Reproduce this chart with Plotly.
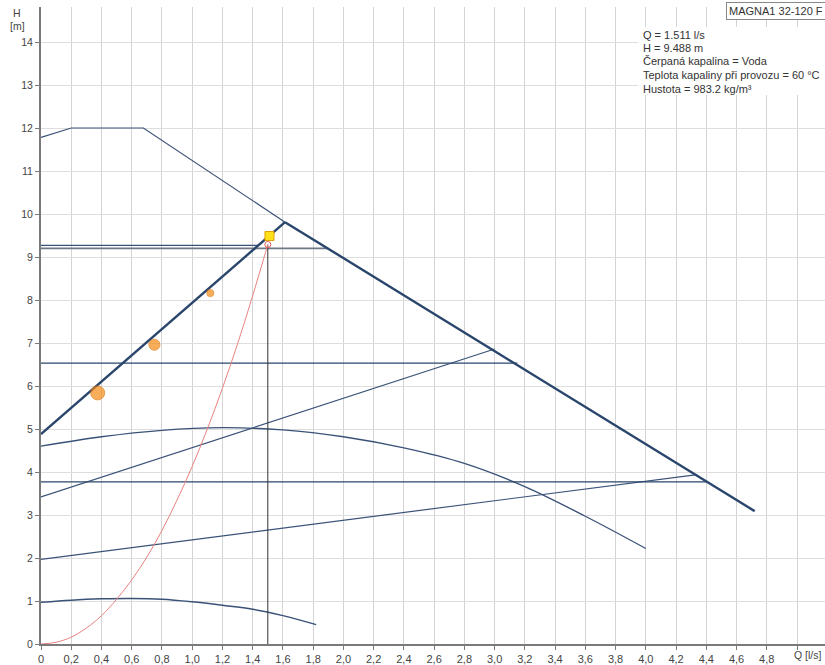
import plotly.graph_objects as go

# ---------------- data ----------------
# Max curve: thin part then thick part
max_thin_q = [0.0, 0.2, 0.677, 1.614]
max_thin_h = [11.78, 12.0, 12.0, 9.81]
max_thick_q = [1.614, 4.72]
max_thick_h = [9.81, 3.09]

# Thick proportional-pressure curve
pp_max_q = [0.0, 1.614]
pp_max_h = [4.88, 9.81]

# Thin proportional-pressure curves
pp1_q = [0.0, 3.0]
pp1_h = [3.42, 6.86]
pp2_q = [0.0, 4.34]
pp2_h = [1.97, 3.94]

# Constant-pressure curves
cp_a_q = [0.0, 1.44]
cp_a_h = [9.27, 9.27]
cp_b_q = [0.0, 1.90]
cp_b_h = [9.20, 9.20]
cp1_q = [0.0, 3.15]
cp1_h = [6.53, 6.53]
cp2_q = [0.0, 4.41]
cp2_h = [3.77, 3.77]

# Constant-curve (speed) curves
cc1_q = [0.0, 0.4, 0.8, 1.2, 1.6, 2.0, 2.4, 2.8, 3.2, 3.6, 4.0]
cc1_h = [4.60, 4.82, 4.97, 5.03, 4.98, 4.82, 4.56, 4.20, 3.66, 2.97, 2.22]
cc2_q = [0.0, 0.2, 0.4, 0.6, 0.8, 1.0, 1.2, 1.4, 1.6, 1.82]
cc2_h = [0.97, 1.02, 1.05, 1.06, 1.04, 0.98, 0.90, 0.81, 0.66, 0.45]

# System curve (red)
sys_q = [0.0, 0.1, 0.2, 0.3, 0.4, 0.5, 0.6, 0.7, 0.8, 0.9, 1.0, 1.1, 1.2, 1.3, 1.4, 1.5]
sys_h = [0.0, 0.04, 0.16, 0.37, 0.66, 1.04, 1.49, 2.02, 2.64, 3.35, 4.13, 5.0, 5.95, 6.98, 8.1, 9.29]

# Duty point
duty_q = 1.511
duty_h = 9.488
sys_pt_q = 1.5
sys_pt_h = 9.29

# Orange points
pts_q = [0.375, 0.75, 1.12]
pts_h = [5.84, 6.96, 8.16]
pts_size = [14, 11, 7]

# Ticks
x_tickvals = [round(0.2 * i, 1) for i in range(26)]
x_ticktext = ["0"] + [f"{v:.1f}".replace(".", ",") for v in x_tickvals[1:25]] + [""]
y_tickvals = list(range(0, 15))

info_lines = [
    "Q = 1.511 l/s",
    "H = 9.488 m",
    "Čerpaná kapalina = Voda",
    "Teplota kapaliny při provozu = 60 °C",
    "Hustota = 983.2 kg/m³",
]
title_box = "MAGNA1 32-120 F"

# ---------------- figure ----------------
NAVY = "#2a466c"
THIN = "#3a5278"
GREY = "#6f7684"

fig = go.Figure()

def line(q, h, color, width, shape="linear"):
    fig.add_trace(go.Scatter(x=q, y=h, mode="lines",
                             line=dict(color=color, width=width, shape=shape,
                                       smoothing=1.0 if shape == "spline" else None),
                             hoverinfo="skip", showlegend=False))

line(cc1_q, cc1_h, THIN, 1.3, "spline")
line(cc2_q, cc2_h, THIN, 1.5, "spline")
line(pp1_q, pp1_h, THIN, 1.2)
line(pp2_q, pp2_h, THIN, 1.2)
line(cp1_q, cp1_h, NAVY, 1.2)
line(cp2_q, cp2_h, NAVY, 1.2)
line(cp_a_q, cp_a_h, THIN, 1.2)
line(cp_b_q, cp_b_h, GREY, 1.6)
line(max_thin_q, max_thin_h, THIN, 1.2)
line(max_thick_q, max_thick_h, NAVY, 2.4)
line(pp_max_q, pp_max_h, NAVY, 2.4)

# vertical duty line
line([sys_pt_q, sys_pt_q], [0, sys_pt_h], "#333333", 1)

# system curve
line(sys_q, sys_h, "#e8837f", 1, "spline")

# orange points
fig.add_trace(go.Scatter(x=pts_q, y=pts_h, mode="markers",
                         marker=dict(size=pts_size, color="#f58b14",
                                     line=dict(color="#e07000", width=1)),
                         hoverinfo="skip", showlegend=False))
# system point
fig.add_trace(go.Scatter(x=[sys_pt_q], y=[sys_pt_h], mode="markers",
                         marker=dict(size=6, color="rgba(0,0,0,0)", symbol="circle",
                                     line=dict(color="#e05a5a", width=1)),
                         hoverinfo="skip", showlegend=False))
# duty point
fig.add_trace(go.Scatter(x=[duty_q], y=[duty_h], mode="markers",
                         marker=dict(size=9, color="#ffe11a", symbol="square",
                                     line=dict(color="#e0a000", width=1)),
                         hoverinfo="skip", showlegend=False))

W, H = 825, 665
L, R, T, B = 41, 0, 7, 21
pw, ph = W - L - R, H - T - B

def px(xp):
    return (xp - L) / pw

def py(yp):
    return (H - B - yp) / ph

fig.update_layout(
    width=W, height=H, autosize=False,
    margin=dict(l=L, r=R, t=T, b=B, pad=0),
    paper_bgcolor="white", plot_bgcolor="white",
    font=dict(family="Liberation Sans, Arial, sans-serif", size=10, color="#444444"),
    xaxis=dict(range=[0, pw / 151.2], tickvals=x_tickvals, ticktext=x_ticktext,
               showgrid=True, gridcolor="#d4d4d4", gridwidth=1,
               zeroline=False, showline=True, linecolor="#7a7a7a", linewidth=2,
               ticks="outside", ticklen=4, tickcolor="#7a7a7a",
               tickfont=dict(size=11, color="#444444"), fixedrange=True),
    yaxis=dict(range=[0, ph / 43.0], tickvals=y_tickvals,
               showgrid=True, gridcolor="#dedede", gridwidth=1,
               zeroline=False, showline=True, linecolor="#7a7a7a", linewidth=2,
               ticks="outside", ticklen=4, tickcolor="#7a7a7a",
               tickfont=dict(size=10.5, color="#444444"), fixedrange=True),
)

# white panel behind the info text
fig.add_shape(type="rect", xref="paper", yref="paper",
              x0=px(638), x1=1.0, y0=py(95), y1=py(27),
              fillcolor="white", line=dict(width=0), layer="above")

fig.add_annotation(xref="paper", yref="paper", x=px(17), y=py(13), text="H",
                   showarrow=False, font=dict(size=10.5, color="#444444"),
                   xanchor="center", yanchor="middle")
fig.add_annotation(xref="paper", yref="paper", x=px(17), y=py(26), text="[m]",
                   showarrow=False, font=dict(size=10.5, color="#444444"),
                   xanchor="center", yanchor="middle")
fig.add_annotation(xref="paper", yref="paper", x=px(792), y=py(655), text="Q [l/s]",
                   showarrow=False, font=dict(size=10.5, color="#444444"),
                   xanchor="left", yanchor="middle")

line_y = [34.5, 48, 61.5, 75, 88.5]
for txt, yy in zip(info_lines, line_y):
    fig.add_annotation(xref="paper", yref="paper", x=px(641), y=py(yy),
                       text=txt, align="left", showarrow=False,
                       font=dict(size=11, color="#333333"),
                       xanchor="left", yanchor="middle")

fig.add_annotation(xref="paper", yref="paper", x=px(726), y=py(2),
                   text=title_box, align="left",
                   showarrow=False, font=dict(size=11, color="#333333"),
                   xanchor="left", yanchor="top", bgcolor="white",
                   bordercolor="#888888", borderwidth=1, borderpad=2)

fig.write_html(
    "out.html",
    config={"displayModeBar": False},
    post_script="document.body.style.margin='0px';document.body.style.overflow='hidden';",
)
